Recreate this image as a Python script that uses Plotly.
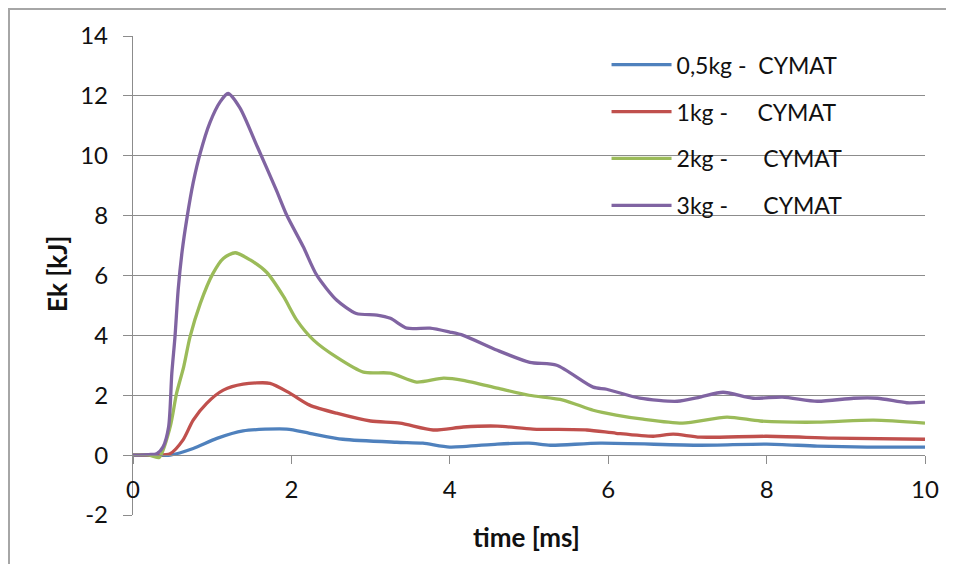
import plotly.graph_objects as go

# ---- data ----
x_05 = [0, 0.3, 0.47, 0.76, 1.06, 1.39, 1.94, 2.23, 2.65, 3.33, 3.66, 4.0, 4.6, 5.0, 5.27, 5.9, 7.16, 8.0, 8.64, 9.27, 10]
y_05 = [0, 0, 0, 0.22, 0.56, 0.81, 0.87, 0.73, 0.53, 0.43, 0.4, 0.27, 0.37, 0.4, 0.33, 0.4, 0.33, 0.37, 0.3, 0.27, 0.27]

x_1 = [0, 0.3, 0.47, 0.63, 0.76, 0.93, 1.14, 1.39, 1.73, 1.98, 2.23, 2.57, 3.0, 3.37, 3.79, 4.17, 4.6, 5.05, 5.73, 6.1, 6.57, 6.82, 7.16, 8.0, 8.84, 10]
y_1 = [0, 0, 0.05, 0.5, 1.17, 1.73, 2.17, 2.37, 2.4, 2.07, 1.67, 1.4, 1.14, 1.07, 0.84, 0.94, 0.97, 0.87, 0.84, 0.73, 0.63, 0.7, 0.6, 0.63, 0.57, 0.53]

x_2 = [0, 0.2, 0.33, 0.47, 0.55, 0.64, 0.72, 0.85, 1.01, 1.14, 1.29, 1.48, 1.69, 1.9, 2.07, 2.28, 2.57, 2.91, 3.25, 3.58, 3.92, 4.17, 4.6, 5.0, 5.43, 5.81, 6.1, 6.44, 6.94, 7.5, 7.92, 8.64, 9.35, 10]
y_2 = [0, 0, -0.08, 0.95, 2.06, 2.95, 3.95, 5.07, 6.07, 6.57, 6.76, 6.52, 6.1, 5.3, 4.5, 3.84, 3.27, 2.77, 2.74, 2.44, 2.57, 2.5, 2.24, 2.0, 1.84, 1.5, 1.34, 1.2, 1.07, 1.27, 1.14, 1.1, 1.17, 1.07]

x_3 = [0, 0.2, 0.3, 0.38, 0.45, 0.49, 0.53, 0.57, 0.62, 0.68, 0.76, 0.85, 0.97, 1.1, 1.2, 1.35, 1.57, 1.81, 1.94, 2.15, 2.32, 2.57, 2.82, 3.08, 3.25, 3.46, 3.75, 4.0, 4.17, 4.6, 5.01, 5.35, 5.81, 5.98, 6.4, 6.87, 7.16, 7.45, 7.83, 8.2, 8.64, 9.1, 9.4, 9.77, 10]
y_3 = [0, 0.02, 0.05, 0.28, 0.95, 2.73, 3.95, 5.51, 6.8, 7.9, 9.1, 10.1, 11.1, 11.8, 12.08, 11.6, 10.3, 8.85, 8.02, 6.96, 6.01, 5.18, 4.73, 4.68, 4.57, 4.24, 4.24, 4.11, 4.0, 3.5, 3.1, 3.0, 2.27, 2.2, 1.9, 1.8, 1.94, 2.1, 1.9, 1.94, 1.8, 1.9, 1.9, 1.75, 1.77]

names = ["0,5kg -\u00a0\u00a0CYMAT",
         "1kg -\u00a0\u00a0\u00a0\u00a0\u00a0CYMAT",
         "2kg -\u00a0\u00a0\u00a0\u00a0\u00a0\u00a0CYMAT",
         "3kg -\u00a0\u00a0\u00a0\u00a0\u00a0\u00a0CYMAT"]
colors = ["#4F81BD", "#C0504D", "#9BBB59", "#8064A2"]

x_ticks = [0, 2, 4, 6, 8, 10]
y_ticks = [-2, 0, 2, 4, 6, 8, 10, 12, 14]
y_tick_text = ["-2", "0", "2", "4", "6", "8", "10", "12", "14"]

FONT = "Lato, 'Open Sans', sans-serif"
GRID = "#8c8c8c"
BORDER = "#a6a6a6"

W, H = 938, 556
L, R, T, B = 125, 21, 28, 49
x_dom = [L / W, 1 - R / W]
y_dom = [B / H, 1 - T / H]
y_zero_pos = y_dom[0] + (0 - (-2)) / 16 * (y_dom[1] - y_dom[0])

fig = go.Figure()
for i, (xs, ys) in enumerate([(x_05, y_05), (x_1, y_1), (x_2, y_2), (x_3, y_3)]):
    fig.add_trace(go.Scatter(x=xs, y=ys, mode="lines", name=names[i],
                             legendgroup=f"g{i}",
                             line=dict(color=colors[i], width=3.3, shape="spline", smoothing=0.7)))

# empty frame subplot whose axis lines give the outer border (left + top)
fig.add_trace(go.Scatter(x=[], y=[], xaxis="x2", yaxis="y2", showlegend=False, hoverinfo="skip"))

fig.update_layout(
    width=W, height=H,
    margin=dict(l=0, r=0, t=0, b=0, autoexpand=False),
    paper_bgcolor="white", plot_bgcolor="rgba(0,0,0,0)",
    font=dict(family=FONT, size=24, color="#111111"),
    showlegend=True,
    legend=dict(x=0.6381, y=0.9367, xanchor="left", yanchor="top",
                bgcolor="rgba(0,0,0,0)", traceorder="grouped", tracegroupgap=14,
                font=dict(family=FONT, size=23, color="#111111"), itemwidth=60),
    xaxis=dict(domain=x_dom, range=[0, 10], tickvals=x_ticks, showgrid=False, zeroline=False,
               showline=True, linecolor=GRID, linewidth=1.3,
               anchor="free", position=y_zero_pos,
               ticks="outside", ticklen=8, tickcolor=GRID, tickwidth=1.3,
               ticklabelstandoff=5,
               tickfont=dict(family=FONT, size=24, color="#111111")),
    yaxis=dict(domain=y_dom, range=[-2, 14], tickvals=y_ticks, ticktext=y_tick_text,
               showgrid=True, gridcolor=GRID, gridwidth=1.3,
               zeroline=False, showline=True, linecolor=GRID, linewidth=1.3,
               ticks="outside", ticklen=9, tickcolor=GRID, tickwidth=1.3,
               ticklabelstandoff=10,
               tickfont=dict(family=FONT, size=24, color="#111111")),
    xaxis2=dict(domain=[0.0022, 1], range=[0, 1], anchor="y2", side="top",
                showline=True, linecolor=BORDER, linewidth=1.5,
                showgrid=False, zeroline=False, showticklabels=False, ticks=""),
    yaxis2=dict(domain=[0, 0.9962], range=[0, 1], anchor="x2", side="left",
                showline=True, linecolor=BORDER, linewidth=1.5,
                showgrid=False, zeroline=False, showticklabels=False, ticks=""),
)

fig.add_annotation(text="<b>time [ms]</b>", xref="paper", yref="paper",
                   x=0.5533, y=0.0486, xanchor="center", yanchor="middle", showarrow=False,
                   font=dict(family=FONT, size=26, color="#111111"))
fig.add_annotation(text="<b>Ek [kJ]</b>", xref="paper", yref="paper",
                   x=0.0522, y=0.5216, xanchor="center", yanchor="middle", showarrow=False, textangle=-90,
                   font=dict(family=FONT, size=26, color="#111111"))

fig.write_html("out.html")
